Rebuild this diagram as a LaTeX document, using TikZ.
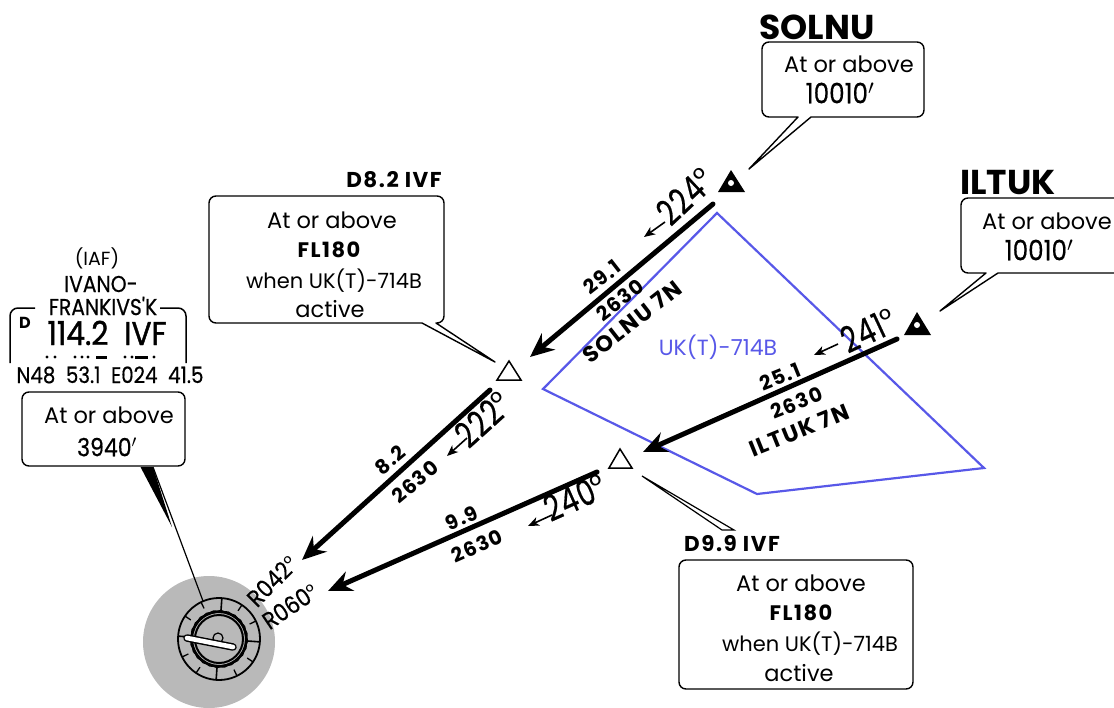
\documentclass[tikz,border=0pt]{standalone}
\usepackage{fontspec}
\setmainfont{Poppins}
\newfontfamily\nar[FakeStretch=0.76,FakeBold=0.5,LetterSpace=3]{Poppins}
\newfontfamily\nark[FakeStretch=0.88,FakeBold=0.5]{Poppins}
\newfontfamily\freqf[FakeStretch=0.9,FakeBold=1.2]{Poppins}
\newfontfamily\spc[LetterSpace=7]{Poppins}
\newfontfamily\degf{Poppins}
\newcommand{\bigdeg}{\raisebox{0.12em}{\fontsize{30}{30}\degf °}}
\newcommand{\smalldeg}{\raisebox{0.08em}{\fontsize{20}{20}\degf °}}
\usetikzlibrary{arrows.meta}
\definecolor{bluezone}{RGB}{88,88,232}
\definecolor{halo}{RGB}{185,185,185}
\tikzset{
 x=1pt,y=-1pt,
 callout/.style={draw=black,line width=1.4,fill=white,line join=round},
 route/.style={line width=5,line cap=round,-{Stealth[length=24,width=21,inset=8]}},
 small/.style={line width=1.6,-{Stealth[length=11,width=9,inset=3]}},
 boldnum/.style={inner sep=0,font=\fontsize{20}{20}\spc\bfseries},
 rtname/.style={inner sep=0,font=\fontsize{22.5}{22.5}\spc\bfseries},
 head/.style={inner sep=0,font=\fontsize{34.5}{34.5}\selectfont\bfseries},
 fix/.style={inner sep=0,font=\fontsize{21.5}{21.5}\spc\bfseries},
 brg/.style={inner sep=0,font=\fontsize{36}{36}\nar},
 txt/.style={inner sep=0,font=\fontsize{22.5}{22.5}\selectfont},
 bigalt/.style={inner sep=0,font=\fontsize{28}{28}\nark},
 wp/.style={draw=black,line width=1.5,line join=miter,fill=white},
}
\begin{document}
\begin{tikzpicture}
\useasboundingbox (0,0) rectangle (1114,707);
% airspace
\draw[bluezone,line width=2.2,line join=miter] (717,213)--(984,468)--(757,494)--(543,389)--cycle;
\node[txt,bluezone] (zone) at (718,347) {\fontsize{22}{22}\selectfont UK(T)-714B};
% callouts
\draw[callout] (769,42) -- (917,42) arc[start angle=-90,end angle=0,radius=7] -- (924,110) arc[start angle=0,end angle=90,radius=7] -- (811,117) -- (749,169) -- (798,117) -- (769,117) arc[start angle=90,end angle=180,radius=7] -- (762,49) arc[start angle=180,end angle=270,radius=7] -- cycle;
\draw[callout] (968,198) -- (1120,198) -- (1120,273) -- (998,273) -- (940,311) -- (986,273) -- (968,273) arc[start angle=90,end angle=180,radius=7] -- (961,205) arc[start angle=180,end angle=270,radius=7] -- cycle;
\draw[callout] (216,196) -- (437,196) arc[start angle=-90,end angle=0,radius=7] -- (444,316) arc[start angle=0,end angle=90,radius=7] -- (436,323) -- (495,362) -- (422,323) -- (216,323) arc[start angle=90,end angle=180,radius=7] -- (209,203) arc[start angle=180,end angle=270,radius=7] -- cycle;
\draw[callout] (686,560) -- (906,560) arc[start angle=-90,end angle=0,radius=7] -- (913,682) arc[start angle=0,end angle=90,radius=7] -- (686,689) arc[start angle=90,end angle=180,radius=7] -- (679,567) arc[start angle=180,end angle=270,radius=7] -- cycle;
\draw[line width=1.2,fill=white] (642,476) -- (734,530) -- (722,530) -- cycle;
\draw[callout] (29,392) -- (178,392) arc[start angle=-90,end angle=0,radius=7] -- (185,459) arc[start angle=0,end angle=90,radius=7] -- (29,466) arc[start angle=90,end angle=180,radius=7] -- (22,399) arc[start angle=180,end angle=270,radius=7] -- cycle;
% texts
\node[head] (solnu) at (817,27) {SOLNU};
\node[head] (iltuk) at (1008,183) {ILTUK};
\node[txt] (a1) at (849,64) {At or above};
\node[bigalt] (a2) at (840,93) {10010$'$};
\node[txt] (b1) at (1047,221) {At or above};
\node[bigalt] (b2) at (1039,250) {10010$'$};
\node[fix] (d8) at (394,180) {D8.2 IVF};
\node[txt] (c1) at (332,220) {At or above};
\node[txt] (c2) at (329,250) {\fontsize{21}{21}\spc\bfseries FL180};
\node[txt] (c3) at (334,281) {\fontsize{21}{21}\selectfont when UK(T)-714B};
\node[txt] (c4) at (330,309) {active};
\node[fix] (d9) at (732,544) {D9.9 IVF};
\node[txt] (e1) at (801,583) {At or above};
\node[txt] (e2) at (801,613) {\fontsize{21}{21}\spc\bfseries FL180};
\node[txt] (e3) at (810,644) {\fontsize{21}{21}\selectfont when UK(T)-714B};
\node[txt] (e4) at (799,673) {active};
\node[txt] (f1) at (109,415) {At or above};
\node[bigalt,font=\fontsize{25}{25}\nark] (f2) at (107,447) {3940$'$};
% navaid
\node[inner sep=0,font=\fontsize{19}{19}\selectfont] (iaf) at (97,258) {(IAF)};
\node[inner sep=0,font=\fontsize{23}{23}\nark] (n1) at (101,284) {IVANO-};
\node[inner sep=0,font=\fontsize{23}{23}\nark] (n2) at (103,306) {FRANKIVS'K};
\draw[line width=1.5] (35,308) -- (18,308) arc[start angle=-90,end angle=-180,radius=8] -- (10,363);
\draw[line width=1.5] (160,308) -- (178,308) arc[start angle=-90,end angle=0,radius=8] -- (186,363);
\node[inner sep=0,font=\fontsize{16}{16}\selectfont\bfseries] (dd) at (25,323) {D};
\node[inner sep=0,anchor=base,font=\fontsize{33}{33}\freqf] (freq) at (107,345) {114.2~~IVF};
\node[inner sep=0,anchor=base,font=\fontsize{22.5}{22.5}\nark] (pos) at (110,383) {N48~~53.1~~E024~~41.5};
\foreach \mx in {47,55,75,82,88,125,132,154}{\fill (\mx,357) circle[radius=1.6];}
\draw[line width=3] (96,357)--(107,357);
\draw[line width=3] (135,357)--(148,357);
% beacon
\fill[halo] (209,642) circle[radius=66];
\draw[line width=1.2] (153,467)--(203,601);
\fill (140.5,467)--(153,467)--(172,527)--cycle;
\begin{scope}[shift={(219,639)}]
\draw[line width=1.8] (0,0) circle[radius=41];
\foreach \ang in {4,94,184,274}{\draw[line width=1.6] (\ang:41)--(\ang:27);}
\foreach \ang in {34,64,124,154,214,244,304,334}{\draw[line width=1.3] (\ang:41)--(\ang:34);}
\draw[line width=2.4,line join=round] plot[samples at={4,34,...,334}] (\x:28) -- cycle;
\draw[line width=2.4,line join=round] plot[samples at={19,49,...,349}] (\x:28) -- cycle;
\draw[line width=2,fill=halo] (0,0) circle[radius=24];
\draw[line width=1.2] (-1,-1) circle[radius=5];
\end{scope}
\draw[line width=7.5,black,line cap=round] (187,638)--(233,647);
\draw[line width=4.6,white,line cap=round] (187,638)--(233,647);
% waypoints
\draw[wp] (509,361)--(521,380)--(497,380)--cycle;
\draw[wp] (620,449)--(632,468)--(609,468)--cycle;
\fill (731,170)--(745,192)--(718,192)--cycle;
\fill[white] (731,183) circle[radius=3];
\fill (917,312)--(931,335)--(904,335)--cycle;
\fill[white] (917,325) circle[radius=3];
\coordinate (s1) at (713,204); \coordinate (s2) at (530,357);
\coordinate (i1) at (897,339); \coordinate (i2) at (643,452);
\coordinate (d1) at (490,390); \coordinate (d2) at (302,560);
\coordinate (g1) at (597,472); \coordinate (g2) at (328,591);
\draw[route] (s1)--(s2);
\draw[route] (i1)--(i2);
\draw[route] (d1)--(d2);
\draw[route] (g1)--(g2);
% small arrows
\coordinate (a1s) at (665,222); \coordinate (a1e) at (644,237);
\coordinate (a2s) at (838,344); \coordinate (a2e) at (814,355);
\coordinate (a3s) at (467,438); \coordinate (a3e) at (447,456);
\coordinate (a4s) at (552,515); \coordinate (a4e) at (528,526);
\draw[small] (a1s)--(a1e);
\draw[small] (a2s)--(a2e);
\draw[small] (a3s)--(a3e);
\draw[small] (a4s)--(a4e);
\node[brg,rotate=43] (r1) at (685,196) {224\bigdeg};
\node[brg,rotate=25] (r2) at (868,330) {241\bigdeg};
\node[brg,rotate=42] (r3) at (483,419) {222\bigdeg};
\node[brg,rotate=24] (r4) at (575,497) {240\bigdeg};
% route labels
\node[boldnum,rotate=38] (l1) at (602,277) {29.1};
\node[boldnum,rotate=38] (l2) at (620,300) {2630};
\node[rtname,rotate=38] (l3) at (632,322) {SOLNU 7N};
\node[boldnum,rotate=22] (l4) at (780,377) {25.1};
\node[boldnum,rotate=22] (l5) at (797,403) {2630};
\node[rtname,rotate=22] (l6) at (799,430) {ILTUK 7N};
\node[boldnum,rotate=40] (l7) at (390,460) {8.2};
\node[boldnum,rotate=40] (l8) at (415,482) {2630};
\node[boldnum,rotate=24] (l9) at (462,518) {9.9};
\node[boldnum,rotate=24] (l10) at (477,546) {2630};
\node[inner sep=0,rotate=45,font=\fontsize{24}{24}\nark] (r042) at (272,581) {R042\smalldeg};
\node[inner sep=0,rotate=34,font=\fontsize{24}{24}\nark] (r060) at (290,606) {R060\smalldeg};
\end{tikzpicture}
\end{document}
